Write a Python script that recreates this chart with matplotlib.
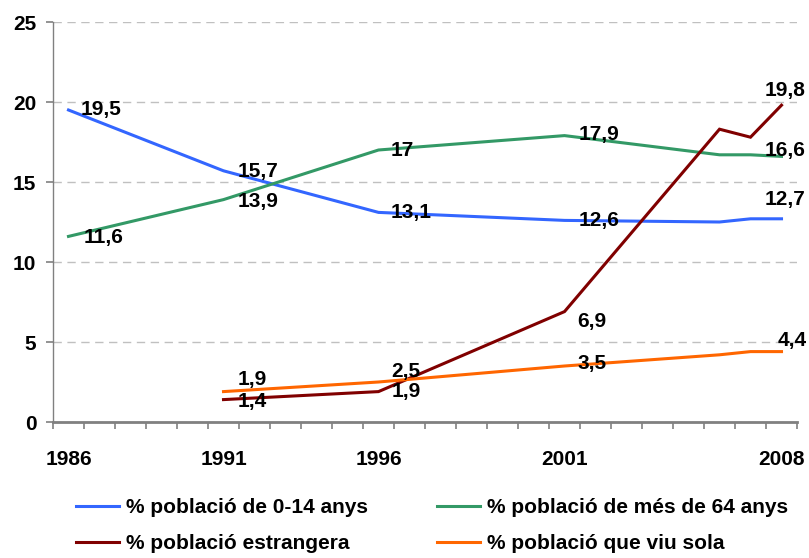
import matplotlib
matplotlib.use("Agg")
import matplotlib.pyplot as plt
from matplotlib.ticker import FixedLocator

plt.rcParams['font.family'] = ['Liberation Sans', 'DejaVu Sans']
plt.rcParams['font.weight'] = 'bold'

# category slots of the original (Excel-style) category axis
categories = [str(y) for y in range(1986, 1997)] + ['1997', '1998', '1999', '2000', '2000b'] + \
             [str(y) for y in range(2001, 2009)]
shown_years = ['1986', '1991', '1996', '2001', '2008']

years_a = ['1986', '1991', '1996', '2001', '2006', '2007', '2008']
pob_0_14 = [19.5, 15.7, 13.1, 12.6, 12.5, 12.7, 12.7]
pob_64 = [11.6, 13.9, 17.0, 17.9, 16.7, 16.7, 16.6]

years_b = ['1991', '1996', '2001', '2006', '2007', '2008']
pob_estr = [1.4, 1.9, 6.9, 18.3, 17.8, 19.8]
pob_sola = [1.9, 2.5, 3.5, 4.2, 4.4, 4.4]

# label offsets in pixels; labels at the last point are right-aligned at the figure edge
series = [
    ('% població de 0-14 anys', years_a, pob_0_14, '#3366FF',
     {'1986': (12, 1), '1991': (14, -1), '1996': (12, 0), '2001': (14, 0), '2008': (24, 19)}),
    ('% població de més de 64 anys', years_a, pob_64, '#339966',
     {'1986': (15, -1), '1991': (14, -2), '1996': (12, -1), '2001': (14, 1), '2008': (24, 6)}),
    ('% població estrangera', years_b, pob_estr, '#800000',
     {'1991': (14, -2), '1996': (13, 0), '2001': (13, -10), '2008': (24, 15)}),
    ('% població que viu sola', years_b, pob_sola, '#FF6600',
     {'1991': (14, 12), '1996': (13, 10), '2001': (13, 2), '2008': (25, 11)}),
]

FS = 15

fig = plt.figure(figsize=(8.09, 5.58), dpi=100)
ax = fig.add_axes([53 / 809, 1 - 422 / 558, (797 - 53) / 809, 400 / 558])

handles = []
for name, yrs, vals, color, offs in series:
    xs = [categories.index(y) for y in yrs]
    ln, = ax.plot(xs, vals, color=color, lw=2.2, solid_joinstyle='miter', label=name, zorder=3)
    handles.append(ln)
    for y, v in zip(yrs, vals):
        if y in offs:
            txt = ('%g' % v).replace('.', ',')
            ax.annotate(txt, (categories.index(y), v), xytext=offs[y], textcoords='offset pixels',
                        ha='right' if y == yrs[-1] else 'left', va='center',
                        fontsize=FS, fontweight='bold', zorder=4, annotation_clip=False)

ax.set_xlim(-0.5, len(categories) - 0.5)
ax.set_ylim(0, 25)
ax.set_yticks(range(0, 26, 5))
ax.yaxis.grid(True, color='#C0C0C0', linestyle=(0, (6, 4)), lw=1)
ax.set_axisbelow(True)

ax.xaxis.set_major_locator(FixedLocator([categories.index(y) for y in shown_years]))
ax.set_xticklabels(shown_years)
ax.xaxis.set_minor_locator(FixedLocator([i - 0.5 for i in range(len(categories) + 1)]))
ax.tick_params(axis='x', which='major', length=0, pad=20, labelsize=FS)
ax.tick_params(axis='x', which='minor', length=5, width=1.2, color='#808080', direction='out')
ax.tick_params(axis='y', length=5, width=1.2, color='#808080', pad=7, labelsize=FS)
for lab in ax.get_xticklabels() + ax.get_yticklabels():
    lab.set_fontweight('bold')

for s in ['top', 'right']:
    ax.spines[s].set_visible(False)
ax.spines['left'].set_color('#808080')
ax.spines['left'].set_linewidth(1)
ax.spines['bottom'].set_color('#808080')
ax.spines['bottom'].set_linewidth(2)

# legend fills column-wise, so reorder to get rows (0-14, >64) and (estrangera, sola)
order = [0, 2, 1, 3]
fig.legend(handles=[handles[i] for i in order], loc='upper left',
           bbox_to_anchor=(76 / 809, 1 - 498 / 558),
           ncol=2, frameon=False, handlelength=2.07, handletextpad=0.34,
           columnspacing=3.3, labelspacing=0.83, borderpad=0, borderaxespad=0,
           prop={'weight': 'bold', 'size': FS})

fig.savefig('out.png', dpi=100)
